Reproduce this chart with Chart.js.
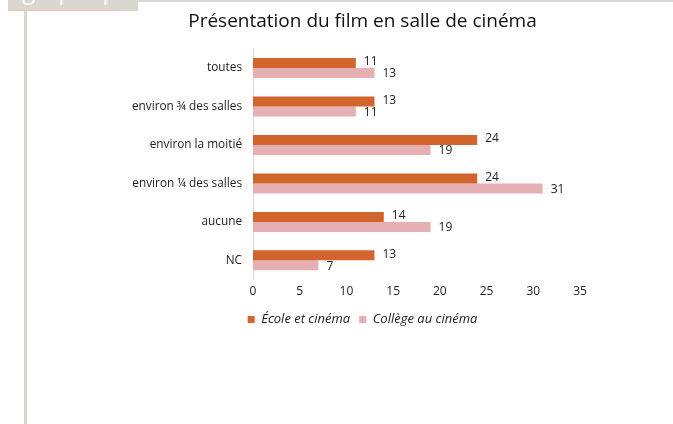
<!DOCTYPE html>
<html>
<head>
<meta charset="utf-8">
<script src="https://cdn.jsdelivr.net/npm/chart.js@4/dist/chart.umd.min.js"></script>
<style>
  html,body{margin:0;padding:0;background:#fff;}
  #wrap{position:relative;width:673px;height:424px;overflow:hidden;}
  #tab{position:absolute;left:8px;top:0;width:130px;height:11px;background:#DAD6D0;overflow:hidden;}
  #tab span{position:absolute;left:14px;top:-27px;font:24px "Open Sans",sans-serif;color:#fff;}
  #topline{position:absolute;left:138px;top:0;width:535px;height:2px;background:#DAD6D0;}
  #peach{position:absolute;left:8px;top:10px;width:114px;height:1px;background:#E9C9B6;}
  #vline{position:absolute;left:24px;top:11px;width:3px;height:413px;background:#DAD6D0;}
  canvas{position:absolute;left:0;top:0;}
</style>
</head>
<body>
<div id="wrap">
  <div id="tab"><span>graphique</span></div>
  <div id="topline"></div>
  <div id="peach"></div>
  <div id="vline"></div>
  <canvas id="c" width="673" height="424"></canvas>
</div>
<script>
const categories = ["toutes", "environ ¾ des salles", "environ la moitié", "environ ¼ des salles", "aucune", "NC"];
const ecoleValues = [11, 13, 24, 24, 14, 13];
const collegeValues = [13, 11, 19, 31, 19, 7];
const xTicks = [0, 5, 10, 15, 20, 25, 30, 35];
const seriesNames = ["École et cinéma", "Collège au cinéma"];

const FONT = "'Open Sans', sans-serif";

const valueLabels = {
  id: 'valueLabels',
  afterDatasetsDraw(chart) {
    const ctx = chart.ctx;
    ctx.save();
    ctx.font = "12px " + FONT;
    ctx.fillStyle = "#222";
    ctx.textAlign = "left";
    ctx.textBaseline = "middle";
    chart.data.datasets.forEach((ds, di) => {
      const meta = chart.getDatasetMeta(di);
      meta.data.forEach((bar, i) => {
        const dy = di === 0 ? -1 : 1;
        ctx.fillText(String(ds.data[i]), bar.x + 8, bar.y + dy);
      });
    });
    ctx.restore();
  }
};

new Chart(document.getElementById('c'), {
  type: 'bar',
  data: {
    labels: categories,
    datasets: [
      { label: seriesNames[0], data: ecoleValues, backgroundColor: '#D2642D', borderWidth: 0,
        categoryPercentage: 0.52, barPercentage: 1.0 },
      { label: seriesNames[1], data: collegeValues, backgroundColor: '#E6B0B3', borderWidth: 0,
        categoryPercentage: 0.52, barPercentage: 1.0 }
    ]
  },
  options: {
    indexAxis: 'y',
    responsive: false,
    animation: false,
    layout: { padding: { left: 52, right: 0, top: 0, bottom: 88 } },
    scales: {
      x: {
        min: 0, max: 35,
        afterBuildTicks(scale) { scale.ticks = xTicks.map(v => ({ value: v })); },
        grid: { display: false, drawTicks: false },
        border: { display: false },
        ticks: { color: '#222', font: { family: FONT, size: 12 }, padding: 5 }
      },
      y: {
        grid: { display: false, drawTicks: false },
        border: { display: true, color: '#D9D9D9', width: 1 },
        ticks: { color: '#222', font: { family: FONT, size: 11.8 }, padding: 11 },
        afterFit(scale) { scale.width = 201; }
      },
      yRight: {
        axis: 'y',
        type: 'category',
        position: 'right',
        display: true,
        grid: { display: false, drawTicks: false },
        border: { display: false },
        ticks: { display: false },
        afterFit(scale) { scale.width = 93; }
      }
    },
    plugins: {
      title: {
        display: true,
        text: 'Présentation du film en salle de cinéma',
        color: '#111',
        font: { family: FONT, size: 19, weight: 'normal' },
        padding: { top: 10, bottom: 16 }
      },
      legend: {
        position: 'bottom',
        labels: {
          boxWidth: 7, boxHeight: 7, padding: 9,
          color: '#222',
          font: { family: FONT, size: 13, style: 'italic' }
        }
      },
      tooltip: { enabled: false }
    }
  },
  plugins: [valueLabels]
});
</script>
</body>
</html>
